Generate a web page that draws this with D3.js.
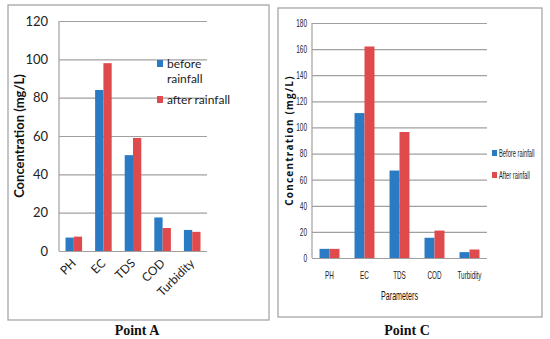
<!DOCTYPE html>
<html>
<head>
<meta charset="utf-8">
<script src="https://cdn.jsdelivr.net/npm/d3@7"></script>
<style>
  body { margin: 0; background: #fff; }
  svg { display: block; }
</style>
</head>
<body>
<div id="chart"></div>
<script>
const params = ["PH", "EC", "TDS", "COD", "Turbidity"];

const beforeA = [7, 84, 50, 17.5, 11];
const afterA = [7.5, 98, 59, 12, 10];
const ticksA = [0, 20, 40, 60, 80, 100, 120];

const beforeC = [7, 111, 67, 15.5, 4.5];
const afterC = [7, 162, 96.5, 21, 6.5];
const ticksC = [0, 20, 40, 60, 80, 100, 120, 140, 160, 180];

const blue = "#2b7bc4";
const red = "#df4a4d";

const svg = d3.select("#chart").append("svg")
    .attr("width", 550)
    .attr("height", 339);

// squeeze text horizontally (stand-in for a condensed font)
function condense(sel, f) {
    if (f === 1) return;
    sel.each(function() {
        const w = this.getComputedTextLength();
        d3.select(this).attr("textLength", w * f).attr("lengthAdjust", "spacingAndGlyphs");
    });
}

function drawPanel(opt) {
    const g = svg.append("g");

    // frame
    g.append("rect")
        .attr("x", opt.frame[0]).attr("y", opt.frame[1])
        .attr("width", opt.frame[2]).attr("height", opt.frame[3])
        .attr("fill", "none")
        .attr("stroke", "#a6a6a6")
        .attr("stroke-width", 1.3);

    const x = d3.scaleBand()
        .domain(params)
        .range([opt.left, opt.right])
        .paddingInner(opt.pad)
        .paddingOuter(opt.pad / 2);

    const xs = d3.scaleBand()
        .domain(["before", "after"])
        .range([0, x.bandwidth()]);

    const y = d3.scaleLinear()
        .domain([0, d3.max(opt.ticks)])
        .range([opt.bottom, opt.top]);

    // gridlines + y labels
    const yAxis = g.append("g")
        .attr("transform", `translate(${opt.left},0)`)
        .call(d3.axisLeft(y).tickValues(opt.ticks).tickSize(-(opt.right - opt.left)).tickPadding(opt.tickPad));
    yAxis.select(".domain").remove();
    yAxis.selectAll(".tick line").attr("stroke", "#a0a0a0").attr("stroke-width", 1.2);
    yAxis.selectAll(".tick text")
        .attr("fill", "#222")
        .style("font-family", opt.font)
        .style("font-size", opt.tickSize + "px")
        .call(condense, opt.tickSqueeze);

    // left axis line
    g.append("line")
        .attr("x1", opt.left).attr("x2", opt.left)
        .attr("y1", opt.top).attr("y2", opt.bottom)
        .attr("stroke", "#a0a0a0").attr("stroke-width", 1.2);

    const rows = params.map((p, i) => ({ p, before: opt.before[i], after: opt.after[i] }));

    const grp = g.selectAll(".grp").data(rows).enter().append("g")
        .attr("transform", d => `translate(${x(d.p)},0)`);

    grp.append("rect")
        .attr("x", xs("before")).attr("width", xs.bandwidth())
        .attr("y", d => y(d.before)).attr("height", d => y(0) - y(d.before))
        .attr("fill", blue);
    grp.append("rect")
        .attr("x", xs("after")).attr("width", xs.bandwidth())
        .attr("y", d => y(d.after)).attr("height", d => y(0) - y(d.after))
        .attr("fill", red);

    // x labels
    const labels = g.selectAll(".xl").data(params).enter().append("text")
        .style("font-family", opt.font)
        .style("font-size", opt.xSize + "px")
        .attr("fill", "#222")
        .text(d => d);
    if (opt.rotate) {
        labels.attr("text-anchor", "end")
            .attr("transform", d => `translate(${x(d) + x.bandwidth() / 2 + 3},${opt.bottom + 13}) rotate(-45)`);
    } else {
        labels.attr("text-anchor", "middle")
            .attr("x", d => x(d) + x.bandwidth() / 2)
            .attr("y", opt.bottom + 21);
    }
    labels.call(condense, opt.squeeze);

    // y title
    g.append("text")
        .attr("transform", `translate(${opt.yTitleX},${(opt.top + opt.bottom) / 2}) rotate(-90)`)
        .attr("text-anchor", "middle")
        .style("font-family", opt.titleFont)
        .style("font-weight", "bold")
        .style("font-size", opt.yTitleSize + "px")
        .style("letter-spacing", opt.yTitleSpacing + "px")
        .attr("fill", "#111")
        .text("Concentration (mg/L)");

    // legend (text squeezed with a scale so its box stays inside the frame)
    opt.legend.forEach((item, i) => {
        const lg = g.append("g").attr("transform", `translate(${item.x},${item.y})`);
        lg.append("rect")
            .attr("x", 0).attr("y", -opt.legSq + 1)
            .attr("width", opt.legSq - 1).attr("height", opt.legSq)
            .attr("fill", i === 0 ? blue : red);
        item.lines.forEach((t, j) => {
            lg.append("text")
                .attr("transform", `translate(${opt.legSq + opt.legGap},${j * opt.legLine + 2}) scale(${opt.squeeze},1)`)
                .style("font-family", opt.font)
                .style("font-size", opt.legSize + "px")
                .attr("fill", "#222")
                .text(t);
        });
    });

    if (opt.xTitle) {
        g.append("text")
            .attr("x", (opt.left + opt.right) / 2)
            .attr("y", opt.bottom + 42)
            .attr("text-anchor", "middle")
            .style("font-family", opt.font)
            .style("font-size", "13px")
            .attr("fill", "#111")
            .text(opt.xTitle)
            .call(condense, opt.squeeze);
    }

    // caption
    g.append("text")
        .attr("x", opt.capX).attr("y", 335)
        .attr("text-anchor", "middle")
        .style("font-family", "'Liberation Serif', 'Times New Roman', serif")
        .style("font-weight", "bold")
        .style("font-size", "14px")
        .attr("fill", "#111")
        .text(opt.caption);
}

drawPanel({
    frame: [8, 5, 261, 315],
    left: 59, right: 207, top: 21, bottom: 251,
    pad: 0.44,
    ticks: ticksA, before: beforeA, after: afterA,
    font: "Lato, sans-serif", squeeze: 1, tickSqueeze: 1, tickSize: 13, tickPad: 11,
    xSize: 12, rotate: true,
    titleFont: "Lato, sans-serif", yTitleX: 24, yTitleSize: 13, yTitleSpacing: 0,
    legSq: 7, legLine: 15, legSize: 12, legGap: 3,
    legend: [
        { x: 157, y: 66, lines: ["before", "rainfall"] },
        { x: 157, y: 102, lines: ["after rainfall"] }
    ],
    capX: 137, caption: "Point A"
});

drawPanel({
    frame: [278, 8, 264, 309],
    left: 312, right: 487, top: 23, bottom: 258,
    pad: 0.43,
    ticks: ticksC, before: beforeC, after: afterC,
    font: "'Liberation Sans', Arial, sans-serif", squeeze: 0.55, tickSqueeze: 0.62, tickSize: 10.5, tickPad: 5,
    xSize: 11.5, rotate: false,
    titleFont: "'Open Sans', sans-serif", yTitleX: 293, yTitleSize: 10, yTitleSpacing: 1.2,
    legSq: 6, legLine: 12, legSize: 10.5, legGap: 1,
    legend: [
        { x: 492, y: 155 },
        { x: 492, y: 177 }
    ].map((d, i) => ({ ...d, lines: [i === 0 ? "Before rainfall" : "After rainfall"] })),
    xTitle: "Parameters",
    capX: 407, caption: "Point C"
});
</script>
</body>
</html>
